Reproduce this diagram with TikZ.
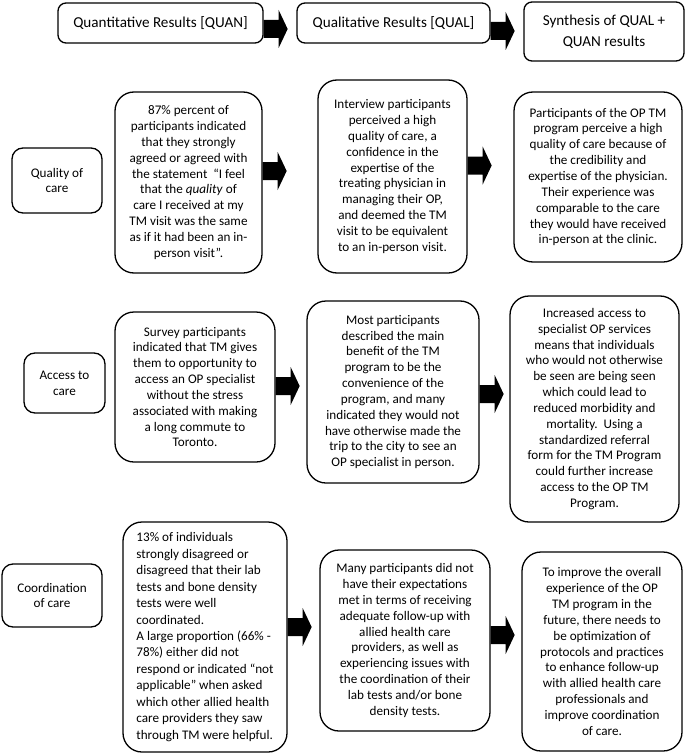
\documentclass[tikz,border=0pt]{standalone}
\usepackage{fontspec}
\setmainfont{Carlito}
\begin{document}
\begin{tikzpicture}[x=1bp,y=-1bp,
  box/.style={draw=black, line width=1.3bp, rounded corners=19bp, inner sep=0pt, align=center,
    font=\fontsize{13.2}{15.9}\selectfont},
  lbox/.style={box, rounded corners=11bp},
  hbox/.style={box, rounded corners=8bp, font=\fontsize{15.2}{21}\selectfont},
  barrow/.pic={\fill[black] (0,-9)--(15,-9)--(15,-19)--(24,0)--(15,19)--(15,9)--(0,9)--cycle;}
]
\useasboundingbox (0,0) rectangle (685,753);
% headers
\node[hbox, minimum width=205bp, minimum height=40bp] (h1) at (160.5,23) {Quantitative Results [QUAN]};
\node[hbox, minimum width=193bp, minimum height=40bp] (h2) at (393.5,23) {Qualitative Results [QUAL]};
\node[hbox, minimum width=160bp, minimum height=59bp] (h3) at (604,31.5) {Synthesis of QUAL +\\QUAN results};
% row 1
\node[lbox, minimum width=90bp, minimum height=65bp] (l1) at (57,180.5) {Quality of\\care};
\node[box, minimum width=147bp, minimum height=181bp] (q1) at (188.5,182.5) {87\% percent of\\participants indicated\\that they strongly\\agreed or agreed with\\the statement\ \ “I feel\\that the \textit{quality} of\\care I received at my\\TM visit was the same\\as if it had been an in-\\person visit”.};
\node[box, minimum width=149bp, minimum height=193bp] (ql1) at (392.5,176.5) {Interview participants\\perceived a high\\quality of care, a\\confidence in the\\expertise of the\\treating physician in\\managing their OP,\\and deemed the TM\\visit to be equivalent\\to an in-person visit.};
\node[box, minimum width=168bp, minimum height=170bp] (s1) at (598,177) {Participants of the OP TM\\program perceive a high\\quality of care because of\\the credibility and\\expertise of the physician.\\Their experience was\\comparable to the care\\they would have received\\in-person at the clinic.};
% row 2
\node[lbox, minimum width=81bp, minimum height=60bp] (l2) at (64.5,383) {Access to\\care};
\node[box, minimum width=160bp, minimum height=150bp] (q2) at (195,387) {Survey participants\\indicated that TM gives\\them to opportunity to\\access an OP specialist\\without the stress\\associated with making\\a long commute to\\Toronto.};
\node[box, minimum width=172bp, minimum height=182bp] (ql2) at (393,392) {Most participants\\described the main\\benefit of the TM\\program to be the\\convenience of the\\program, and many\\indicated they would not\\have otherwise made the\\trip to the city to see an\\OP specialist in person.};
\node[box, minimum width=169bp, minimum height=226bp] (s2) at (594.5,409) {Increased access to\\specialist OP services\\means that individuals\\who would not otherwise\\be seen are being seen\\which could lead to\\reduced morbidity and\\mortality.\ \ Using a\\standardized referral\\form for the TM Program\\could further increase\\access to the OP TM\\Program.};
% row 3
\node[lbox, minimum width=100bp, minimum height=63bp] (l3) at (52,595.5) {Coordination\\of care};
\node[box, align=left, minimum width=164bp, minimum height=230bp, font=\fontsize{13.2}{16.5}\selectfont] (q3) at (205,637) {13\% of individuals\\strongly disagreed or\\disagreed that their lab\\tests and bone density\\tests were well\\coordinated.\\A large proportion (66\% -\\78\%) either did not\\respond or indicated “not\\applicable” when asked\\which other allied health\\care providers they saw\\through TM were helpful.};
\node[box, minimum width=170bp, minimum height=181bp] (ql3) at (405,640.5) {Many participants did not\\have their expectations\\met in terms of receiving\\adequate follow-up with\\allied health care\\providers, as well as\\experiencing issues with\\the coordination of their\\lab tests and/or bone\\density tests.};
\node[box, minimum width=160bp, minimum height=199bp] (s3) at (602,651.5) {To improve the overall\\experience of the OP\\TM program in the\\future, there needs to\\be optimization of\\protocols and practices\\to enhance follow-up\\with allied health care\\professionals and\\improve coordination\\of care.};
% arrows
\coordinate (ah1) at (h1.east |- 0,29);
\coordinate (ah2) at (h2.east |- 0,31);
\coordinate (a11) at (q1.east |- 0,171);
\coordinate (a12) at (ql1.east |- 0,165.5);
\coordinate (a21) at (q2.east |- 0,386);
\coordinate (a22) at (ql2.east |- 0,394);
\coordinate (a31) at (q3.east |- 0,627);
\coordinate (a32) at (ql3.east |- 0,635);
\foreach \c in {ah1,ah2,a11,a12,a21,a22,a31,a32} {\pic at (\c) {barrow};}
\end{tikzpicture}
\end{document}
